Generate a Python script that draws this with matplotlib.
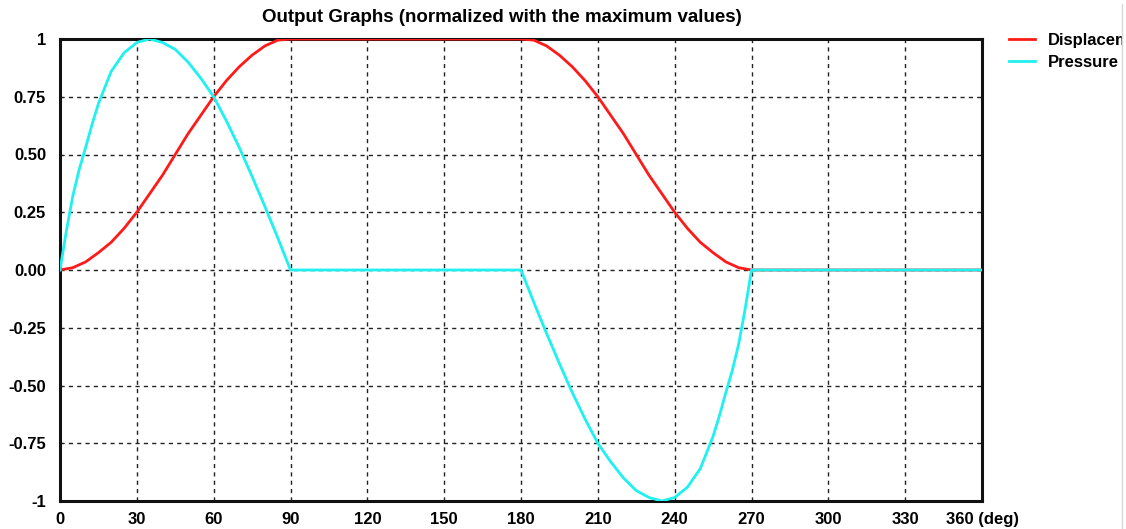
import numpy as np
import matplotlib
matplotlib.use('Agg')
from matplotlib import pyplot as plt
from matplotlib.patches import Rectangle
from matplotlib.lines import Line2D

plt.rcParams['font.family'] = ['Liberation Sans', 'DejaVu Sans']
plt.rcParams['font.weight'] = 'bold'

# crank angle (deg) for the displacement curve, every 5 deg
disp_angle = np.arange(0, 365, 5)

# normalized follower displacement
displacement = [0.00, 0.01, 0.035, 0.075, 0.12, 0.18, 0.25, 0.33, 0.41, 0.50,
                0.59, 0.67, 0.75, 0.82, 0.88, 0.93, 0.97, 0.995, 1.00,
                1.00, 1.00, 1.00, 1.00, 1.00, 1.00, 1.00, 1.00, 1.00, 1.00,
                1.00, 1.00, 1.00, 1.00, 1.00, 1.00, 1.00, 1.00,
                0.995, 0.97, 0.93, 0.88, 0.82, 0.75, 0.67, 0.59, 0.50,
                0.41, 0.33, 0.25, 0.18, 0.12, 0.075, 0.035, 0.01, 0.00,
                0.00, 0.00, 0.00, 0.00, 0.00, 0.00, 0.00, 0.00, 0.00,
                0.00, 0.00, 0.00, 0.00, 0.00, 0.00, 0.00, 0.00, 0.00]

# crank angle (deg) for the pressure curve, denser where it is steep
press_angle = [0, 2.5, 5, 7.5, 10, 12.5, 15, 20, 25, 30, 35, 40, 45, 50, 55,
               60, 65, 70, 75, 80, 85, 90,
               180, 185, 190, 195, 200, 205, 210, 215, 220, 225, 230, 235,
               240, 245, 250, 255, 257.5, 260, 262.5, 265, 267.5, 270, 360]

# normalized contact pressure
pressure = [0.00, 0.17, 0.32, 0.435, 0.53, 0.63, 0.72, 0.86, 0.94, 0.985,
            1.00, 0.985, 0.955, 0.90, 0.83, 0.75, 0.645, 0.53, 0.405, 0.275,
            0.14, 0.00,
            0.00, -0.14, -0.275, -0.405, -0.53, -0.645, -0.75, -0.83, -0.90,
            -0.955, -0.985, -1.00, -0.985, -0.94, -0.86, -0.72, -0.63, -0.53,
            -0.435, -0.32, -0.17, 0.00, 0.00]

x_ticks = [0, 30, 60, 90, 120, 150, 180, 210, 240, 270, 300, 330, 360]
x_labels = ['0', '30', '60', '90', '120', '150', '180', '210', '240',
            '270', '300', '330', '360 (deg)']
y_ticks = [1, 0.75, 0.5, 0.25, 0, -0.25, -0.5, -0.75, -1]
y_labels = ['1', '0.75', '0.50', '0.25', '0.00', '-0.25', '-0.50', '-0.75', '-1']

fig = plt.figure(figsize=(11.26, 5.29), dpi=100)
ax = fig.add_axes([60 / 1126, 28 / 529, 922 / 1126, 462 / 529])

ax.plot(disp_angle, displacement, color='#ff1a1a', lw=2.0, label='Displacement',
        solid_joinstyle='round', zorder=3)
ax.plot(press_angle, pressure, color='#1ff0f0', lw=2.0, label='Pressure',
        solid_joinstyle='round', zorder=4)

ax.set_xlim(0, 360)
ax.set_ylim(-1, 1)
ax.set_xticks(x_ticks)
ax.set_xticklabels(x_labels)
ax.set_yticks(y_ticks)
ax.set_yticklabels(y_labels)
ax.tick_params(length=0, labelsize=12)
ax.tick_params(axis='x', pad=8)
ax.tick_params(axis='y', pad=10)

ax.grid(True, color='#222222', lw=1.0, linestyle=(0, (3, 3)))
for s in ax.spines.values():
    s.set_linewidth(2.2)
    s.set_color('#111111')

fig.text(502 / 1126, 1 - 18 / 529,
         'Output Graphs (normalized with the maximum values)',
         ha='center', va='center', fontsize=13.5, fontweight='bold')

fig.legend(loc='upper left', bbox_to_anchor=(1002 / 1126, 1 - 26 / 529),
           frameon=False, fontsize=12, handlelength=1.6, handletextpad=0.75,
           labelspacing=0.45, borderaxespad=0)

# right-hand window edge
fig.patches.append(Rectangle((1122 / 1126, 0), 4 / 1126, 1,
                             transform=fig.transFigure, color='white', zorder=10))
fig.lines.append(Line2D([1122 / 1126, 1122 / 1126], [0, 1 - 4 / 529],
                        transform=fig.transFigure, color='#d8d8d8', lw=1, zorder=11))

fig.savefig('out.png', dpi=100)
